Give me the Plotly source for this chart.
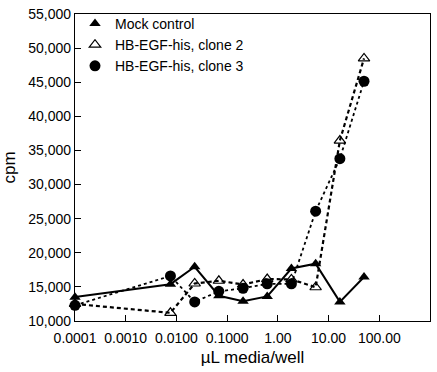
import plotly.graph_objects as go

dose = [0.0001, 0.00762, 0.0229, 0.0686, 0.206, 0.617, 1.85, 5.56, 16.7, 50.0]
mock = [13500, 15400, 17950, 13700, 12900, 13600, 17700, 18400, 12800, 16450]
clone2 = [12500, 11200, 15500, 15900, 15350, 16150, 16100, 14950, 36450, 48500]
clone3 = [12300, 16600, 12800, 14350, 14800, 15450, 15450, 26100, 33800, 45150]

names = ["Mock control", "HB-EGF-his, clone 2", "HB-EGF-his, clone 3"]
xtick_vals = [0.0001, 0.001, 0.01, 0.1, 1, 10, 100]
xtick_text = ["0.0001", "0.0010", "0.0100", "0.1000", "1.00", "10.00", "100.00"]
ytick_vals = list(range(10000, 55001, 5000))

FONT = "Liberation Sans, Arial, sans-serif"

fig = go.Figure()
series = [
    (mock, names[0], dict(symbol="triangle-up", size=10, color="black"), dict(color="black", width=2, dash="solid")),
    (clone2, names[1], dict(symbol="triangle-up-open", size=10, color="black", line=dict(width=1.2, color="black")), dict(color="black", width=2.2, dash="4px,3px")),
    (clone3, names[2], dict(symbol="circle", size=11, color="black"), dict(color="black", width=1.8, dash="dot")),
]
for ys, nm, mk, ln in series:
    fig.add_trace(go.Scatter(x=dose, y=ys, mode="lines+markers", marker=mk, line=ln,
                             name=nm, showlegend=False, cliponaxis=False))
for ys, nm, mk, ln in series:
    fig.add_trace(go.Scatter(x=[None], y=[None], mode="markers", marker=mk, name=nm, showlegend=True))

fig.update_layout(
    width=437, height=372,
    margin=dict(l=75, r=6, t=7, b=51),
    paper_bgcolor="white", plot_bgcolor="white",
    font=dict(family=FONT, size=14, color="black"),
    legend=dict(x=0.0, y=1.02, xanchor="left", yanchor="top", bgcolor="rgba(0,0,0,0)",
                font=dict(size=14), tracegroupgap=0, itemwidth=30),
    xaxis=dict(type="log", range=[-4, 3], tickvals=xtick_vals, ticktext=xtick_text,
               ticks="inside", ticklen=6, tickcolor="black", showgrid=False, zeroline=False,
               showline=True, linecolor="black", linewidth=1.2, mirror=True,
               ticklabelstandoff=4,
               title=dict(text="µL media/well", standoff=6), tickfont=dict(size=14)),
    yaxis=dict(range=[10000, 55010], tickvals=ytick_vals, tickformat=",d",
               ticks="inside", ticklen=6, tickcolor="black", showgrid=False, zeroline=False,
               showline=True, linecolor="black", linewidth=1.2, mirror=True,
               title=dict(text="cpm", standoff=8), tickfont=dict(size=14)),
)

fig.write_html("out.html", config={"displayModeBar": False},
               post_script="document.body.style.margin='0';")
